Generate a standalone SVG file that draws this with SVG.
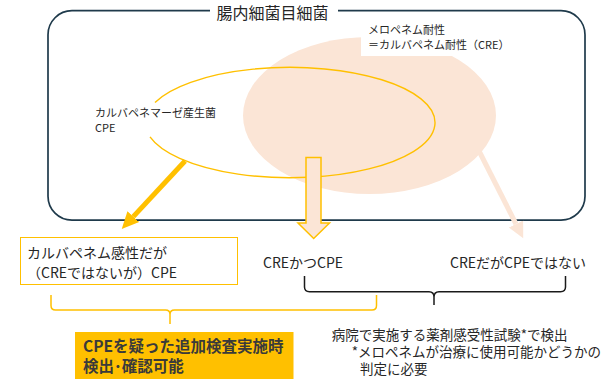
<svg xmlns="http://www.w3.org/2000/svg" width="606" height="379" viewBox="0 0 606 379">
<style>
text{font-family:"Noto Sans CJK JP","Noto Sans",sans-serif;fill:#262626}
.t11{font-size:11px}
.t13{font-size:13.5px}
.t14{font-size:14px}
.bold{font-size:15.5px;font-weight:bold;fill:#3a3a3a}
.peach{fill:#FBE5D6}
.ybr{fill:none;stroke:#FFC000;stroke-width:1.5}
</style>
<defs>
<marker id="hy" viewBox="0 -9 18 18" refX="0" refY="0" markerWidth="18" markerHeight="18" markerUnits="userSpaceOnUse" orient="auto">
<path d="M0,-8 L17,0 L0,8 z" fill="#FFC000"/>
</marker>
<marker id="hp" viewBox="0 -9 18 18" refX="0" refY="0" markerWidth="18" markerHeight="18" markerUnits="userSpaceOnUse" orient="auto">
<path d="M0,-8 L16,0 L0,8 z" fill="#FBE5D6"/>
</marker>
</defs>
<rect width="606" height="379" fill="#fff"/>

<g id="enterobacterales">
<rect x="48" y="10.7" width="537" height="209.5" rx="24" fill="none" stroke="#1F3A4B" stroke-width="1.7"/>
<rect x="210" y="2" width="128" height="18" fill="#fff"/>
<text x="272.5" y="19.4" style="font-size:16px" text-anchor="middle">腸内細菌目細菌</text>
</g>

<g id="cre">
<ellipse class="peach" cx="369.5" cy="115.5" rx="126.5" ry="78.5"/>
<rect x="361" y="22" width="154" height="34" fill="#fff"/>
<text class="t11" x="368" y="34.2">メロペネム耐性</text>
<text class="t11" x="368" y="49.2">＝カルバペネム耐性（CRE）</text>
</g>

<g id="cpe">
<path d="M155,102.4 A145,55.2 0 1 1 150,136.9" fill="none" stroke="#FFC000" stroke-width="1.4"/>
<text class="t11" x="95" y="117.2">カルバペネマーゼ産生菌</text>
<text class="t11" x="95" y="132">CPE</text>
</g>

<g id="connectors">
<path d="M185,161 L133.3,216.6" stroke="#FFC000" stroke-width="5" fill="none" marker-end="url(#hy)"/>
<polygon points="306,157.5 321,157.5 321,223 329.5,223 313.7,238.5 298,223 306,223" fill="#FBE5D6" stroke="#FFC000" stroke-width="1.5"/>
<path d="M476,145 L516,224" stroke="#FBE5D6" stroke-width="5" fill="none" marker-end="url(#hp)"/>
<path d="M304.5,276 V287 Q304.5,291.7 309.5,291.7 H429 Q434,291.7 434,297 V305 M434,297 Q434,291.7 439,291.7 H560.5 Q565.5,291.7 565.5,287 V276" fill="none" stroke="#1a1a1a" stroke-width="1.5"/>
<path class="ybr" d="M51,295 V305.5 Q51,310 55.5,310 H165.5 Q170,310 170,314.5 V324 M170,314.5 Q170,310 174.5,310 H372 Q376.5,310 376.5,305.5 V295"/>
</g>

<g id="susceptible-cpe">
<rect x="20.5" y="237.5" width="217" height="47" fill="#fff" stroke="#FFC000" stroke-width="1"/>
<text class="t14" x="27" y="258">カルバペネム感性だが</text>
<text class="t14" x="27" y="277.6">（CREではないが）CPE</text>
</g>

<g id="cre-and-cpe">
<text class="t14" x="263" y="268">CREかつCPE</text>
</g>

<g id="cre-not-cpe">
<text class="t14" x="450" y="268">CREだがCPEではない</text>
</g>

<g id="additional-test">
<rect x="75" y="332" width="218.5" height="47" fill="#FFC000"/>
<text class="bold" x="83" y="351.6">CPEを疑った追加検査実施時</text>
<text class="bold" x="83" y="371.9">検出･確認可能</text>
</g>

<g id="hospital-test">
<text class="t13" x="331.7" y="340">病院で実施する薬剤感受性試験*で検出</text>
<text class="t13" x="351.7" y="356.8">*メロペネムが治療に使用可能かどうかの</text>
<text class="t13" x="360" y="374">判定に必要</text>
</g>
</svg>
